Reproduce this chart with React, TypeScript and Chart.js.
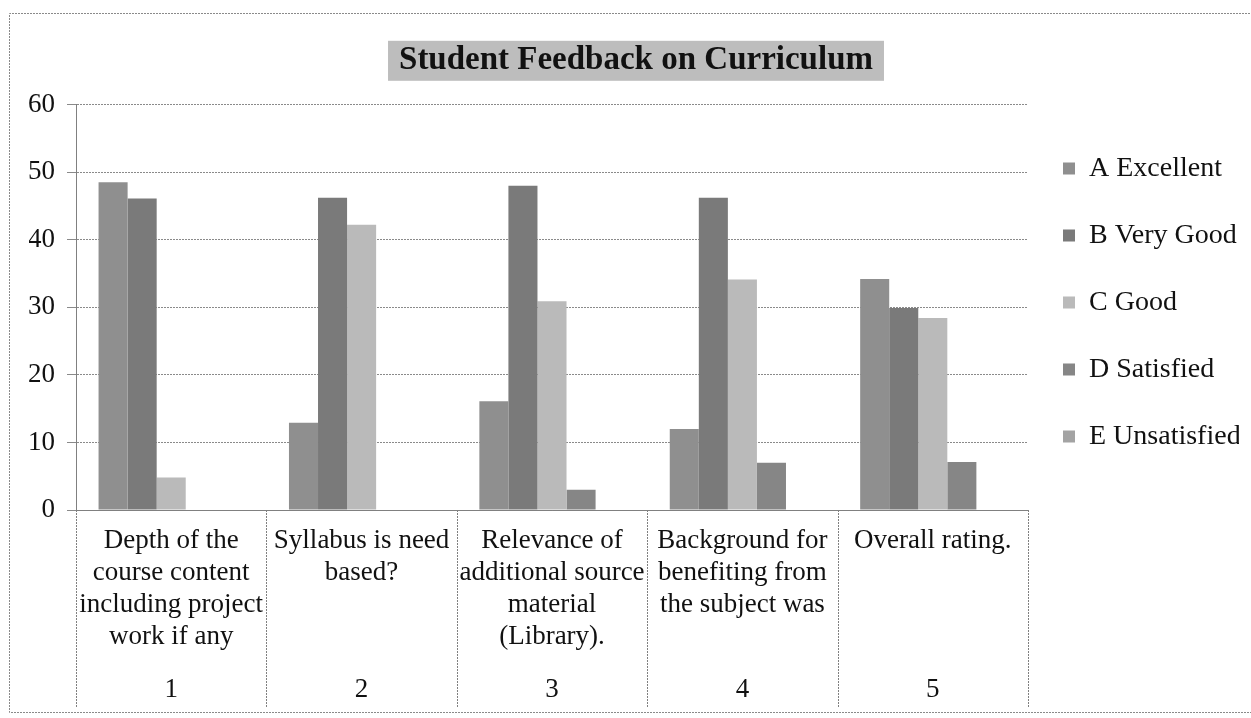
import React, { useEffect, useRef } from "react";
import { Chart, registerables } from "chart.js";

Chart.register(...registerables);

const categories: string[][] = [
  ["Depth of the", "course content", "including project", "work if any"],
  ["Syllabus is need", "based?"],
  ["Relevance of", "additional source", "material", "(Library)."],
  ["Background for", "benefiting from", "the subject was"],
  ["Overall rating."],
];
const questionNumbers = ["1", "2", "3", "4", "5"];
const seriesNames = ["A Excellent", "B Very Good", "C Good", "D Satisfied", "E Unsatisfied"];
const excellent = [48.5, 12.9, 16.1, 12.0, 34.2];
const veryGood = [46.1, 46.2, 48.0, 46.2, 29.9];
const good = [4.8, 42.2, 30.9, 34.1, 28.4];
const satisfied = [0, 0, 3.0, 7.0, 7.1];
const unsatisfied = [0, 0, 0, 0, 0];
const yTicks = [0, 10, 20, 30, 40, 50, 60];
const seriesColors = ["#8f8f8f", "#7a7a7a", "#bababa", "#868686", "#a3a3a3"];
const titleText = "Student Feedback on Curriculum";

const FONT = "'Liberation Serif', 'Times New Roman', serif";
const TITLE_PAD_TOP = 41;
const TITLE_SIZE = 33;
const TITLE_LH = 1.2;
const LABEL_SIZE = 27;
const LABEL_LH = 32 / 27;

const noPadding = () => ({ left: 0, top: 0, right: 0, bottom: 0 });

const decorPlugin = {
  id: "decor",
  afterLayout(chart: any) {
    const lg = chart.legend;
    if (lg) {
      const w = lg.right - lg.left;
      const h = lg.bottom - lg.top;
      lg.left = chart.chartArea.right - 4;
      lg.right = lg.left + w;
      lg.top = chart.chartArea.top + 11;
      lg.bottom = lg.top + h;
    }
  },
  beforeDraw(chart: any) {
    const ctx = chart.ctx;
    ctx.save();
    const t = chart.titleBlock;
    ctx.font = `bold ${TITLE_SIZE}px ${FONT}`;
    const w = ctx.measureText(titleText).width;
    const cx = (t.left + t.right) / 2;
    const cy = t.top + TITLE_PAD_TOP + (TITLE_SIZE * TITLE_LH) / 2;
    ctx.fillStyle = "#bdbdbd";
    ctx.fillRect(cx - w / 2 - 11, cy - 20, w + 22, 40);
    ctx.restore();
  },
  afterDraw(chart: any) {
    const ctx = chart.ctx;
    const xs = chart.scales.x;
    const x2 = chart.scales.x2;
    const n = categories.length;
    ctx.save();
    ctx.strokeStyle = "#808080";
    ctx.lineWidth = 1;
    ctx.setLineDash([2, 1]);
    for (let i = 0; i <= n; i++) {
      let x: number;
      if (i === 0) x = xs.left;
      else if (i === n) x = xs.right;
      else x = (xs.getPixelForTick(i - 1) + xs.getPixelForTick(i)) / 2;
      ctx.beginPath();
      ctx.moveTo(Math.round(x) + 0.5, chart.chartArea.bottom);
      ctx.lineTo(Math.round(x) + 0.5, x2.bottom);
      ctx.stroke();
    }
    ctx.strokeStyle = "#8a8a8a";
    ctx.beginPath();
    ctx.moveTo(chart.width + 5, 13.5);
    ctx.lineTo(9.5, 13.5);
    ctx.lineTo(9.5, 712.5);
    ctx.lineTo(chart.width + 5, 712.5);
    ctx.stroke();
    ctx.restore();
  },
};

export default function App() {
  const ref = useRef<HTMLCanvasElement | null>(null);
  useEffect(() => {
    if (!ref.current) return;
    Chart.defaults.font.family = FONT;
    const values = [excellent, veryGood, good, satisfied, unsatisfied];
    const chart = new Chart(ref.current, {
      type: "bar",
      data: {
        labels: categories,
        datasets: seriesNames.map((name, i) => ({
          label: name,
          data: values[i],
          backgroundColor: seriesColors[i],
          borderWidth: 0,
          categoryPercentage: 0.763,
          barPercentage: 1,
        })),
      },
      options: {
        responsive: false,
        animation: false,
        layout: { padding: { left: 29, right: 8, top: 0, bottom: 10 } },
        plugins: {
          title: {
            display: true,
            text: titleText,
            color: "#111",
            font: { size: TITLE_SIZE, weight: "bold", family: FONT, lineHeight: TITLE_LH },
            padding: { top: TITLE_PAD_TOP, bottom: 24 },
          },
          legend: {
            position: "right",
            align: "start",
            maxWidth: 215,
            labels: {
              color: "#111",
              font: { size: 28, family: FONT },
              boxWidth: 12,
              boxHeight: 12,
              padding: 39,
            },
          },
          tooltip: { enabled: false },
        },
        scales: {
          x: {
            type: "category",
            position: "bottom",
            grid: { display: false, drawTicks: false, tickLength: 0 },
            border: { display: true, color: "#808080" },
            ticks: {
              color: "#111",
              font: { size: LABEL_SIZE, family: FONT, lineHeight: LABEL_LH },
              padding: 15,
              maxRotation: 0,
              autoSkip: false,
            },
            afterFit: (s: any) => {
              s.paddingLeft = 0;
              s.paddingRight = 0;
              s.getPadding = noPadding;
              s.height = 143;
            },
          },
          x2: {
            type: "category",
            labels: questionNumbers,
            position: "bottom",
            offset: true,
            grid: { display: false, drawTicks: false, tickLength: 0 },
            border: { display: false },
            ticks: {
              color: "#111",
              font: { size: LABEL_SIZE, family: FONT, lineHeight: LABEL_LH },
              padding: 21,
              maxRotation: 0,
              autoSkip: false,
            },
            afterFit: (s: any) => {
              s.paddingLeft = 0;
              s.paddingRight = 0;
              s.getPadding = noPadding;
              s.height = 55;
            },
          },
          y: {
            min: yTicks[0],
            max: yTicks[yTicks.length - 1],
            ticks: {
              stepSize: yTicks[1] - yTicks[0],
              color: "#111",
              font: { size: 27, family: FONT },
              padding: 12,
            },
            grid: { color: "#8a8a8a", tickLength: 9, drawTicks: true },
            border: { display: true, color: "#808080", dash: [2, 1] },
            afterFit: (s: any) => {
              s.width = 47;
            },
          },
        },
      },
      plugins: [decorPlugin],
    } as any);
    return () => chart.destroy();
  }, []);
  return (
    <div style={{ position: "fixed", left: 0, top: 0, width: 1251, height: 718, background: "#fff" }}>
      <canvas ref={ref} width={1251} height={718} style={{ display: "block" }} />
    </div>
  );
}
